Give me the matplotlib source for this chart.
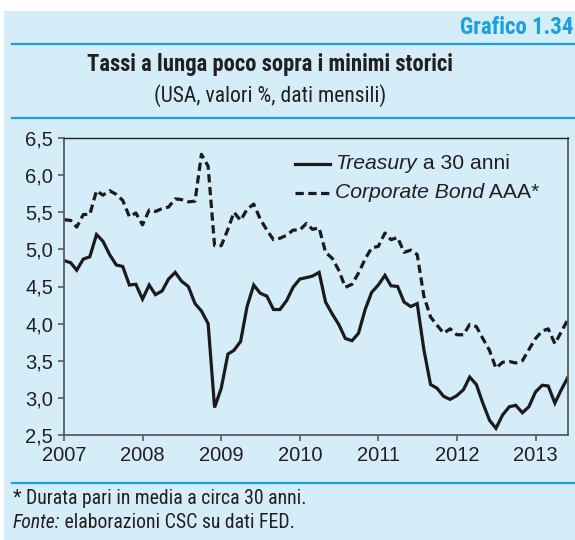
import matplotlib
matplotlib.use("Agg")
import matplotlib.pyplot as plt
from matplotlib import font_manager as fm
from matplotlib.lines import Line2D
from matplotlib.patches import Rectangle
import pandas as pd

# ---- data: monthly yields, %, Jan 2007 - Jun 2013 ----
start_month = "2007-01-01"
treasury_30y = [
    4.85, 4.82, 4.72, 4.87, 4.90, 5.20, 5.11, 4.93, 4.79, 4.77, 4.52, 4.53,
    4.33, 4.52, 4.39, 4.44, 4.60, 4.69, 4.57, 4.50, 4.27, 4.17, 4.00, 2.87,
    3.13, 3.59, 3.64, 3.76, 4.23, 4.52, 4.41, 4.37, 4.19, 4.19, 4.31, 4.49,
    4.60, 4.62, 4.64, 4.69, 4.29, 4.13, 3.99, 3.80, 3.77, 3.87, 4.19, 4.42,
    4.52, 4.65, 4.51, 4.50, 4.29, 4.23, 4.27, 3.65, 3.18, 3.13, 3.02, 2.98,
    3.03, 3.11, 3.28, 3.18, 2.93, 2.70, 2.59, 2.77, 2.88, 2.90, 2.80, 2.88,
    3.08, 3.17, 3.16, 2.93, 3.11, 3.28,
]
corporate_aaa = [
    5.40, 5.39, 5.30, 5.47, 5.47, 5.79, 5.73, 5.79, 5.74, 5.66, 5.44, 5.49,
    5.33, 5.53, 5.51, 5.55, 5.57, 5.68, 5.67, 5.64, 5.65, 6.28, 6.12, 5.05,
    5.05, 5.27, 5.50, 5.39, 5.54, 5.61, 5.41, 5.26, 5.13, 5.15, 5.19, 5.26,
    5.26, 5.35, 5.27, 5.29, 4.96, 4.88, 4.72, 4.49, 4.53, 4.68, 4.87, 5.02,
    5.04, 5.22, 5.13, 5.16, 4.96, 4.99, 4.93, 4.37, 4.09, 3.98, 3.87, 3.93,
    3.85, 3.85, 3.99, 3.96, 3.80, 3.64, 3.40, 3.48, 3.49, 3.47, 3.50, 3.65,
    3.80, 3.90, 3.93, 3.73, 3.89, 4.06,
]
y_ticks = [2.5, 3.0, 3.5, 4.0, 4.5, 5.0, 5.5, 6.0, 6.5]
x_tick_years = [2007, 2008, 2009, 2010, 2011, 2012, 2013]

header_label = "Grafico 1.34"
title = "Tassi a lunga poco sopra i minimi storici"
subtitle = "(USA, valori %, dati mensili)"
legend_entries = [("Treasury", " a 30 anni", "-"), ("Corporate Bond", " AAA*", "--")]
note = "* Durata pari in media a circa 30 anni."
source_lead = "Fonte:"
source_rest = " elaborazioni CSC su dati FED."

# ---- fonts ----
installed = {f.name for f in fm.fontManager.ttflist}
REG = "Liberation Sans" if "Liberation Sans" in installed else "DejaVu Sans"
if "Liberation Sans Narrow" in installed:
    NARROW = "Liberation Sans Narrow"
elif "Roboto Condensed" in installed:
    NARROW = "Roboto Condensed"
else:
    NARROW = "Roboto" if "Roboto" in installed else REG

BG = "#d5ecf9"
BLUE = "#1aa0de"
INK = "#231f20"

dates = pd.date_range(start_month, periods=len(treasury_30y), freq="MS")

W, H = 575, 540
fig = plt.figure(figsize=(W / 100, H / 100), dpi=100)
fig.patch.set_facecolor("white")

# light-blue panel behind everything
fig.add_artist(Rectangle((4 / W, 0), 1 - 4 / W, 1 - 11 / H, transform=fig.transFigure,
                         facecolor=BG, edgecolor="none", zorder=0))

# horizontal rules
for ypix in (44, 117.5, 483):
    fig.add_artist(Line2D([12 / W, 1], [1 - ypix / H] * 2, transform=fig.transFigure,
                          color=BLUE, lw=1.6, zorder=1))

fig.text(573 / W, 1 - 28 / H, header_label, fontfamily=NARROW, fontweight="bold",
         fontsize=16.5, color=BLUE, ha="right", va="center")
fig.text(270 / W, 1 - 64 / H, title, fontfamily=NARROW, fontweight="bold",
         fontsize=16.3, color=INK, ha="center", va="center")
fig.text(270 / W, 1 - 96 / H, subtitle, fontfamily=NARROW, fontsize=15.6,
         color=INK, ha="center", va="center")

# footnotes
fig.text(13 / W, 1 - 498 / H, note, fontfamily=NARROW, fontsize=14.2,
         color=INK, ha="left", va="center")
src = fig.text(13 / W, 1 - 522 / H, source_lead, fontfamily=NARROW, fontstyle="italic",
               fontsize=14.2, color=INK, ha="left", va="center")
fig.add_artist(matplotlib.text.Annotation(source_rest, xy=(1, 0), xycoords=src,
                                          fontfamily=NARROW, fontsize=14.2, color=INK,
                                          ha="left", va="bottom"))

# ---- plot area ----
left, right, top, bottom = 64, 568, 138, 435
ax = fig.add_axes([left / W, 1 - bottom / H, (right - left) / W, (bottom - top) / H])
ax.set_facecolor(BG)
ax.set_zorder(2)

lw = 2.3
ax.plot(dates, treasury_30y, color="#1c1a1a", lw=lw, solid_joinstyle="miter")
ax.plot(dates, corporate_aaa, color="#1c1a1a", lw=lw, dashes=(2.6, 1.4),
        dash_capstyle="butt")

ax.set_xlim(dates[0], dates[-1])
ax.set_ylim(y_ticks[0], y_ticks[-1])
ax.set_yticks(y_ticks)
ax.set_yticklabels([f"{v:.1f}".replace(".", ",") for v in y_ticks])
ax.set_xticks([pd.Timestamp(f"{y}-01-01") for y in x_tick_years])
ax.set_xticklabels([str(y) for y in x_tick_years])

for side in ("left", "bottom", "right"):
    ax.spines[side].set_color("#5b5b5b")
    ax.spines[side].set_linewidth(1.3)
ax.spines["top"].set_color("#222222")
ax.spines["top"].set_linewidth(1.0)

ax.tick_params(axis="both", direction="out", length=4, width=1.2, color="#5b5b5b",
               labelcolor=INK)
ax.tick_params(axis="y", labelsize=14.5, pad=4)
ax.tick_params(axis="x", labelsize=14.5, pad=4)
for lab in ax.get_xticklabels() + ax.get_yticklabels():
    lab.set_fontfamily(REG)

# legend drawn by hand so the series names can be italic
leg_rows = [163.5, 193]
for (ital, rest, style), ypix in zip(legend_entries, leg_rows):
    yf = 1 - (ypix - top) / (bottom - top)
    x0 = (295 - left) / (right - left)
    x1 = (330 - left) / (right - left)
    kw = dict(dashes=(2.6, 1.4), dash_capstyle="butt") if style == "--" else {}
    ax.add_line(Line2D([x0, x1], [yf, yf], transform=ax.transAxes, color="#1c1a1a",
                       lw=lw, **kw))
    t = ax.text((335 - left) / (right - left), yf, ital, transform=ax.transAxes,
                fontfamily=REG, fontstyle="italic", fontsize=15.2, color=INK,
                ha="left", va="center")
    ax.annotate(rest, xy=(1, 0), xycoords=t, fontfamily=REG, fontsize=15.2,
                color=INK, ha="left", va="bottom")

fig.savefig("out.png", dpi=100, facecolor=fig.get_facecolor())
